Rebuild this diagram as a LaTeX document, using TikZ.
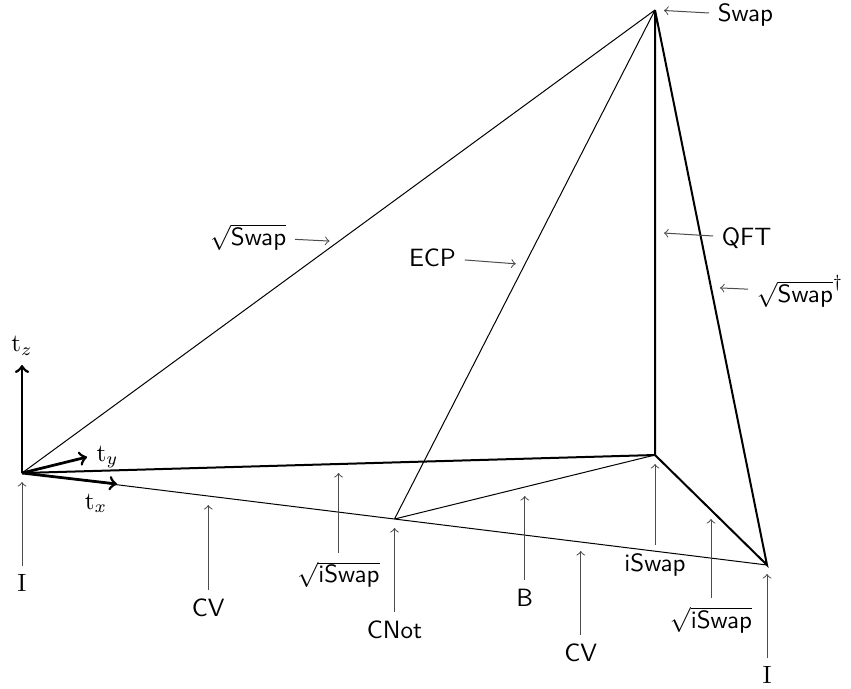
\documentclass[tikz,border=0pt]{standalone}
\usepackage{amsmath}
\usepackage{tikz}
\usetikzlibrary{calc}

\begin{document}
\begin{tikzpicture}[
  x=0.4pt, y=-0.4pt,
  edge/.style={thin},
  bold/.style={thick},
  axis/.style={->, line width=1.1pt},
  lbl/.style={font=\sffamily},
  ptr/.style={->, draw=black!70, shorten >=3.6pt}]
\useasboundingbox (0,0) rectangle (851,688);
\coordinate (I0) at (22,473);
\coordinate (I1) at (767,565);
\coordinate (Swap) at (655,10);
\coordinate (iSwap) at (655,455);
\coordinate (CNot) at ($(I0)!0.5!(I1)$);
\coordinate (cvA) at ($(I0)!0.25!(I1)$);
\coordinate (cvB) at ($(I0)!0.75!(I1)$);
\coordinate (siA) at ($(I0)!0.5!(iSwap)$);
\coordinate (siB) at ($(iSwap)!0.5!(I1)$);
\coordinate (B) at ($(CNot)!0.5!(iSwap)$);
\coordinate (qft) at ($(iSwap)!0.5!(Swap)$);
\coordinate (ssA) at ($(I0)!0.5!(Swap)$);
\coordinate (ssB) at ($(Swap)!0.5!(I1)$);
\coordinate (ecp) at ($(CNot)!0.5!(Swap)$);
\draw[edge] (I0) -- (Swap) (I0) -- (I1) (CNot) -- (Swap) (CNot) -- (iSwap);
\draw[bold] (I0) -- (iSwap) -- (Swap) -- (I1) -- (iSwap);
\draw[axis] (I0) -- (22,365) node[above] (tz) {$\mathrm{t}_z$};
\draw[axis] (I0) -- (87,457) node[right] (ty) {$\mathrm{t}_y$};
\draw[axis] (I0) -- (117,484) node[below left] (tx) {$\mathrm{t}_x$};
\path (I0) ++(0,93) node[anchor=north] (lI0) {I};
\path (cvA) ++(0,94) node[lbl, anchor=north] (lcvA) {CV};
\path (siA) ++(0,89) node[lbl, anchor=north] (lsiA) {$\sqrt{\textsf{iSwap}}$};
\path (CNot) ++(0,93) node[lbl, anchor=north] (lCNot) {CNot};
\path (B) ++(0,93) node[lbl, anchor=north] (lB) {B};
\path (cvB) ++(0,93) node[lbl, anchor=north] (lcvB) {CV};
\path (iSwap) ++(0,90) node[lbl, anchor=north] (liSwap) {iSwap};
\path (siB) ++(0,88) node[lbl, anchor=north] (lsiB) {$\sqrt{\textsf{iSwap}}$};
\path (I1) ++(0,93) node[anchor=north] (lI1) {I};
\path (Swap) ++(54,5) node[lbl, anchor=west] (lSwap) {Swap};
\path (qft) ++(58,5.5) node[lbl, anchor=west] (lqft) {QFT};
\path (ssB) ++(37,4) node[lbl, anchor=west] (lssB) {$\sqrt{\textsf{Swap}}^\dagger$};
\path (ssA) ++(-43.5,-4.5) node[lbl, anchor=east] (lssA) {$\sqrt{\textsf{Swap}}$};
\path (ecp) ++(-60,-7) node[lbl, anchor=east] (lecp) {ECP};
\foreach \a/\b in {lI0/I0, lcvA/cvA, lsiA/siA, lCNot/CNot, lB/B, lcvB/cvB, liSwap/iSwap, lsiB/siB, lI1/I1, lSwap/Swap, lqft/qft, lssB/ssB, lssA/ssA, lecp/ecp}
  \draw[ptr] (\a) -- (\b);
\end{tikzpicture}
\end{document}
